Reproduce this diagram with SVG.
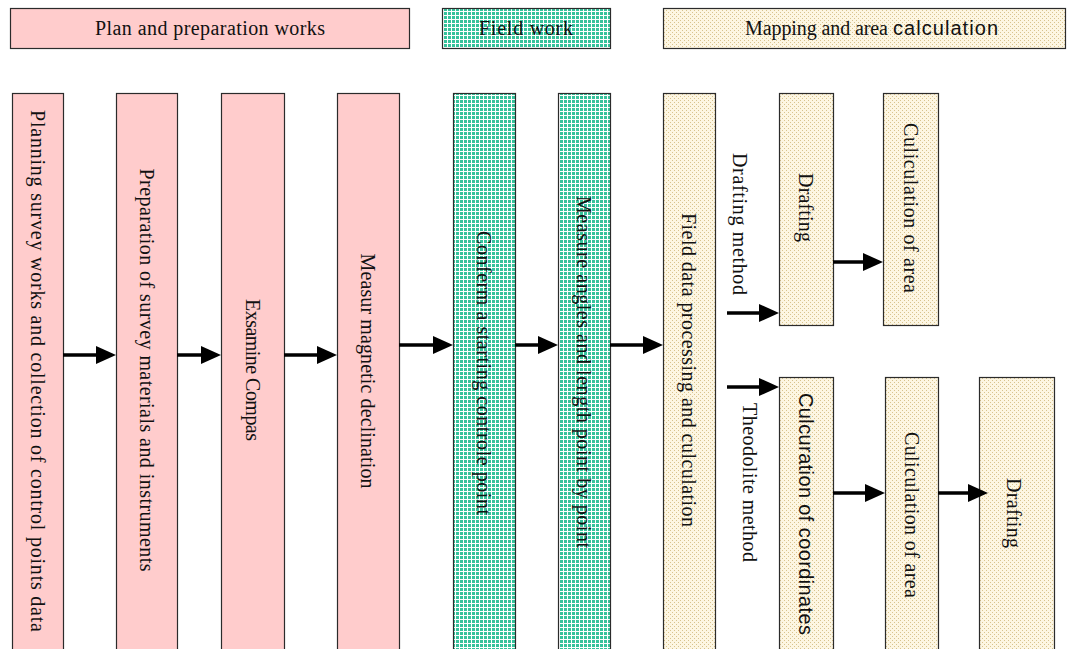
<svg xmlns="http://www.w3.org/2000/svg" width="1077" height="649" viewBox="0 0 1077 649">
  <defs>
    <pattern id="grid" width="4" height="4" patternUnits="userSpaceOnUse">
      <rect width="4" height="4" fill="#ffffff"/>
      <rect width="3" height="3" fill="#36c29b"/>
    </pattern>
    <pattern id="dots" width="4" height="4" patternUnits="userSpaceOnUse">
      <rect width="4" height="4" fill="#fdf6e2"/>
      <rect x="0" y="0" width="1" height="1" fill="#d8c38e"/>
      <rect x="2" y="2" width="1" height="1" fill="#d8c38e"/>
    </pattern>
    <marker id="ah" markerUnits="userSpaceOnUse" markerWidth="20" markerHeight="18" refX="0" refY="9" orient="auto" overflow="visible">
      <path d="M0,0 L20,9 L0,18 Z" fill="#000"/>
    </marker>
  </defs>
  <style>
    rect.box { stroke: #2b2b2b; stroke-width: 1.2; }
    .pink { fill: #ffcccc; }
    .teal { fill: url(#grid); }
    .beige { fill: url(#dots); }
    text { font-family: "Liberation Serif", "Times New Roman", serif; font-size: 20px; fill: #111111; }
    text.sans { font-family: "Liberation Sans", Arial, sans-serif; }
    text.v { text-anchor: middle; dominant-baseline: central; }
    text.h { text-anchor: middle; }
    .conn path { stroke: #000; stroke-width: 3.5; fill: none; marker-end: url(#ah); }
  </style>
  <rect width="1077" height="649" fill="#ffffff"/>

  <g id="header-plan">
    <rect class="box pink" x="10.5" y="8.5" width="399" height="40"/>
    <text class="h" x="210" y="35" textLength="230" lengthAdjust="spacing">Plan and preparation works</text>
  </g>
  <g id="header-field">
    <rect class="box teal" x="442.5" y="8.5" width="168" height="40"/>
    <text class="h" x="526" y="35" textLength="94" lengthAdjust="spacing">Field work</text>
  </g>
  <g id="header-mapping">
    <rect class="box beige" x="663.5" y="8.5" width="402" height="40"/>
    <text y="35"><tspan x="745" textLength="143" lengthAdjust="spacing">Mapping and area</tspan><tspan font-family="Liberation Sans, Arial, sans-serif" x="893" textLength="105" lengthAdjust="spacing">calculation</tspan></text>
  </g>

  <g id="n-planning">
    <rect class="box pink" x="12.5" y="93.5" width="51" height="580"/>
    <text class="v" transform="translate(37.5,371) rotate(90)" textLength="522" lengthAdjust="spacing">Planning survey works and collection of control points data</text>
  </g>
  <g id="n-preparation">
    <rect class="box pink" x="116.5" y="93.5" width="61" height="580"/>
    <text class="v" transform="translate(146.5,370) rotate(90)" textLength="403" lengthAdjust="spacing">Preparation of survey materials and instruments</text>
  </g>
  <g id="n-examine">
    <rect class="box pink" x="221.5" y="93.5" width="63" height="580"/>
    <text class="v" transform="translate(252.5,370) rotate(90)" textLength="142" lengthAdjust="spacing">Exsamine Compas</text>
  </g>
  <g id="n-measur">
    <rect class="box pink" x="337.5" y="93.5" width="62" height="580"/>
    <text class="v" transform="translate(368,371) rotate(90)" textLength="235" lengthAdjust="spacing">Measur magnetic declination</text>
  </g>
  <g id="n-conferm">
    <rect class="box teal" x="453.5" y="93.5" width="62" height="580"/>
    <text class="v" transform="translate(484,373) rotate(90)" textLength="284" lengthAdjust="spacing">Conferm a starting controle point</text>
  </g>
  <g id="n-angles">
    <rect class="box teal" x="558.5" y="93.5" width="52" height="580"/>
    <text class="v" transform="translate(584,372) rotate(90)" textLength="352" lengthAdjust="spacing">Measure angles and length point by point</text>
  </g>
  <g id="n-fielddata">
    <rect class="box beige" x="663.5" y="93.5" width="52" height="580"/>
    <text class="v" transform="translate(689,370) rotate(90)" textLength="314" lengthAdjust="spacing">Field data processing and culculation</text>
  </g>
  <g id="lbl-drafting-method">
    <text class="v" transform="translate(740,224) rotate(90)" textLength="142" lengthAdjust="spacing">Drafting method</text>
  </g>
  <g id="n-drafting-1">
    <rect class="box beige" x="779.5" y="93.5" width="54" height="232"/>
    <text class="v" transform="translate(806,207.5) rotate(90)" textLength="69" lengthAdjust="spacing">Drafting</text>
  </g>
  <g id="n-area-1">
    <rect class="box beige" x="883.5" y="93.5" width="55" height="232"/>
    <text class="v" transform="translate(910.5,208) rotate(90)" textLength="170" lengthAdjust="spacing">Culiculation of area</text>
  </g>
  <g id="lbl-theodolite-method">
    <text class="v" transform="translate(750,482.5) rotate(90)" textLength="159" lengthAdjust="spacing">Theodolite method</text>
  </g>
  <g id="n-coordinates">
    <rect class="box beige" x="779.5" y="377.5" width="54" height="300"/>
    <text class="v sans" transform="translate(806,514) rotate(90)" textLength="242" lengthAdjust="spacing">Culcuration of coordinates</text>
  </g>
  <g id="n-area-2">
    <rect class="box beige" x="885.5" y="377.5" width="53" height="300"/>
    <text class="v" transform="translate(911.5,515) rotate(90)" textLength="166" lengthAdjust="spacing">Culiculation of area</text>
  </g>
  <g id="n-drafting-2">
    <rect class="box beige" x="979.5" y="377.5" width="75" height="300"/>
    <text class="v" transform="translate(1014,513) rotate(90)" textLength="70" lengthAdjust="spacing">Drafting</text>
  </g>

  <g id="connectors" class="conn">
    <path d="M63,355 H96"/>
    <path d="M177,355 H201"/>
    <path d="M284,355 H317"/>
    <path d="M399,345 H433"/>
    <path d="M515,345 H538"/>
    <path d="M610,345 H643"/>
    <path d="M727,313 H759"/>
    <path d="M727,387 H759"/>
    <path d="M833,262 H863"/>
    <path d="M833,493 H865"/>
    <path d="M938,493 H968"/>
  </g>
</svg>
